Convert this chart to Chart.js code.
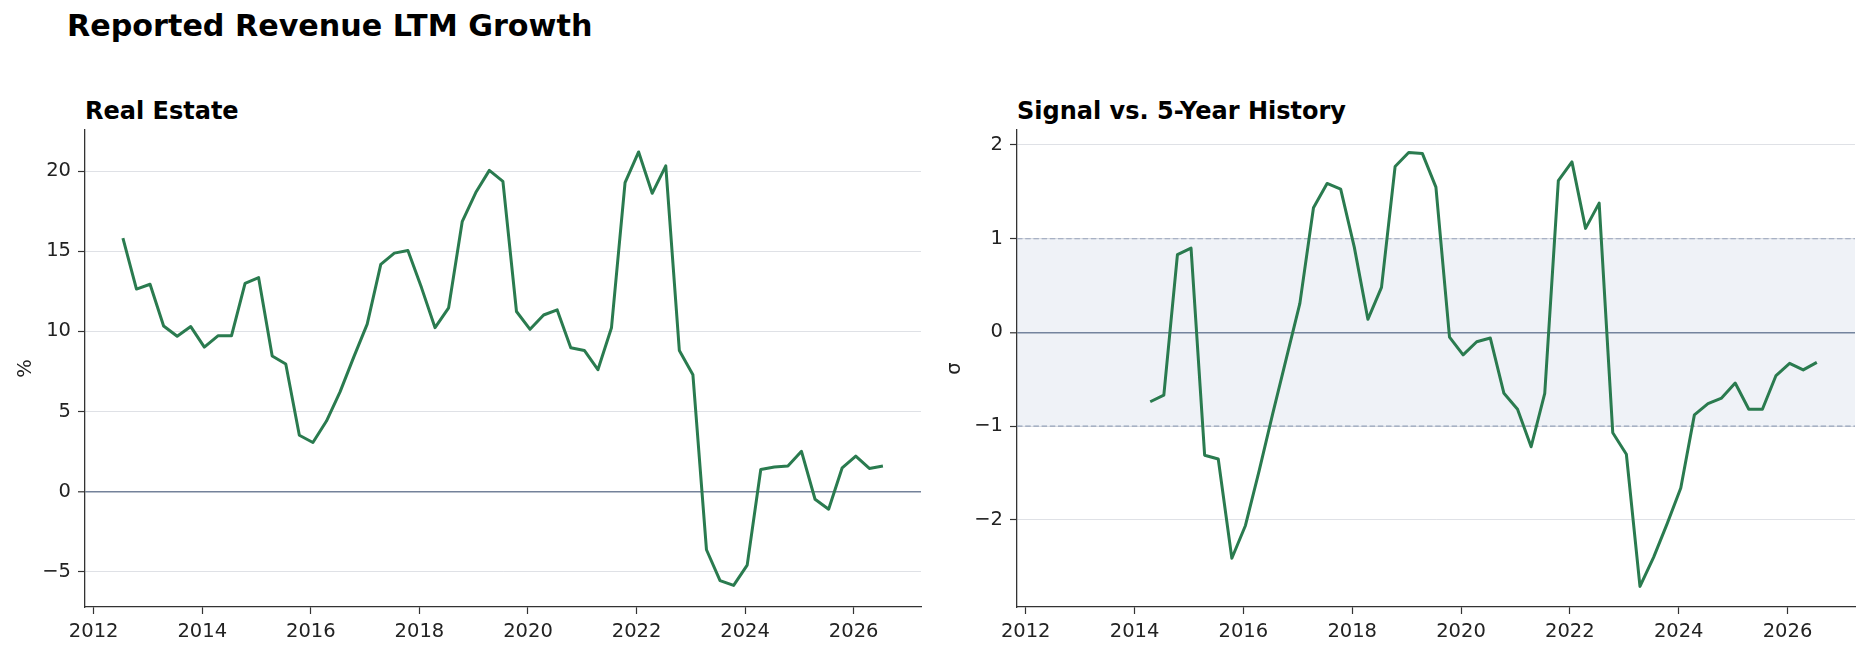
<!DOCTYPE html>
<html>
<head>
<meta charset="utf-8">
<title>Reported Revenue LTM Growth</title>
<script src="https://cdn.jsdelivr.net/npm/chart.js@4.4.1/dist/chart.umd.min.js"></script>
<style>
    body { margin: 0; width: 1869px; height: 656px; background: #fff; position: relative; overflow: hidden; font-family: "DejaVu Sans", sans-serif; }
    .title { position: absolute; font-weight: bold; color: #000; white-space: nowrap; }
    #suptitle { left: 67px; top: 11px; font-size: 30.2px; line-height: 30px; }
    .sub { top: 99px; font-size: 24px; line-height: 24px; }
    canvas { position: absolute; top: 120px; }
</style>
</head>
<body>
<div id="suptitle" class="title">Reported Revenue LTM Growth</div>
<div class="title sub" style="left:85px">Real Estate</div>
<div class="title sub" style="left:1017px">Signal vs. 5-Year History</div>
<canvas id="growthChart" width="935" height="536" style="left:0"></canvas>
<canvas id="signalChart" width="934" height="536" style="left:935px"></canvas>
<script>
document.addEventListener('DOMContentLoaded', init);

// quarterly observation dates
const quarterDates = [
    '2012-07-15', '2012-10-15',
    '2013-01-15', '2013-04-15', '2013-07-15', '2013-10-15',
    '2014-01-15', '2014-04-15', '2014-07-15', '2014-10-15',
    '2015-01-15', '2015-04-15', '2015-07-15', '2015-10-15',
    '2016-01-15', '2016-04-15', '2016-07-15', '2016-10-15',
    '2017-01-15', '2017-04-15', '2017-07-15', '2017-10-15',
    '2018-01-15', '2018-04-15', '2018-07-15', '2018-10-15',
    '2019-01-15', '2019-04-15', '2019-07-15', '2019-10-15',
    '2020-01-15', '2020-04-15', '2020-07-15', '2020-10-15',
    '2021-01-15', '2021-04-15', '2021-07-15', '2021-10-15',
    '2022-01-15', '2022-04-15', '2022-07-15', '2022-10-15',
    '2023-01-15', '2023-04-15', '2023-07-15', '2023-10-15',
    '2024-01-15', '2024-04-15', '2024-07-15', '2024-10-15',
    '2025-01-15', '2025-04-15', '2025-07-15', '2025-10-15',
    '2026-01-15', '2026-04-15', '2026-07-15'
];

// LTM revenue growth, %
const growthPct = [
    15.82, 12.64,
    12.94, 10.34, 9.70, 10.30,
    9.02, 9.72, 9.72, 13.00,
    13.35, 8.46, 7.97, 3.52,
    3.07, 4.41, 6.23, 8.38,
    10.45, 14.18, 14.88, 15.05,
    12.73, 10.23, 11.47, 16.84,
    18.66, 20.04, 19.36, 11.24,
    10.13, 11.02, 11.34, 8.98,
    8.81, 7.61, 10.23, 19.28,
    21.19, 18.61, 20.32, 8.81,
    7.29, -3.62, -5.54, -5.84,
    -4.58, 1.39, 1.54, 1.60,
    2.52, -0.47, -1.09, 1.49,
    2.22, 1.45, 1.60
];

// z-score vs trailing 5 years (needs history, so starts later)
const signalSigma = [
    null, null,
    null, null, null, null,
    null, -0.74, -0.67, 0.83,
    0.90, -1.31, -1.35, -2.41,
    -2.06, -1.48, -0.87, -0.28,
    0.31, 1.33, 1.59, 1.53,
    0.91, 0.14, 0.48, 1.77,
    1.92, 1.91, 1.55, -0.05,
    -0.24, -0.10, -0.06, -0.65,
    -0.82, -1.22, -0.65, 1.62,
    1.82, 1.11, 1.38, -1.07,
    -1.30, -2.71, -2.40, -2.04,
    -1.66, -0.88, -0.76, -0.70,
    -0.54, -0.82, -0.82, -0.46,
    -0.33, -0.40, -0.32
];

const yearTicks = [2012, 2014, 2016, 2018, 2020, 2022, 2024, 2026];
const growthTicks = [-5, 0, 5, 10, 15, 20];
const sigmaTicks = [-2, -1, 0, 1, 2];
const bandLimits = [-1, 1];

const X_RANGE = [2011.84, 2027.24];
const GROWTH_RANGE = [-7.19, 22.56];
const SIGMA_RANGE = [-2.93, 2.16];

const LINE_COLOR = '#2a7b4f';
const GRID_COLOR = '#dfe1e6';
const ZERO_COLOR = '#74829a';
const SPINE_COLOR = '#333333';
const BAND_FILL = 'rgba(120, 145, 190, 0.12)';
const BAND_EDGE = '#98a3b9';
const TICK_FONT = { family: 'DejaVu Sans', size: 19.5 };

function init() {
    Chart.defaults.font.family = 'DejaVu Sans';
    Chart.defaults.color = '#222';

    makeChart('growthChart', [seriesDataset(growthPct)],
        yAxis(GROWTH_RANGE, growthTicks, '%', 14, 85));

    makeChart('signalChart', [
        seriesDataset(signalSigma),
        bandDataset(bandLimits[1], '+1', 2),
        bandDataset(bandLimits[0], false, 3)
    ], yAxis(SIGMA_RANGE, sigmaTicks, 'σ', 8, 82));
}

function toYear(iso) {
    const [y, m, d] = iso.split('-').map(Number);
    return y + (m - 1) / 12 + (d - 1) / 365;
}

function formatTick(value) {
    return value < 0 ? '\u2212' + Math.abs(value) : String(value);
}

function seriesDataset(values) {
    return {
        data: quarterDates.map((d, i) => ({ x: toYear(d), y: values[i] })),
        borderColor: LINE_COLOR,
        borderWidth: 3,
        borderJoinStyle: 'round',
        pointRadius: 0,
        tension: 0,
        fill: false,
        order: 0
    };
}

// horizontal dashed edge of the +/-1 sigma band, filled to the next dataset
function bandDataset(level, fill, order) {
    return {
        data: X_RANGE.map(x => ({ x: x, y: level })),
        borderColor: BAND_EDGE,
        borderWidth: 1.1,
        borderDash: [5.5, 2.7],
        backgroundColor: BAND_FILL,
        pointRadius: 0,
        fill: fill,
        order: order
    };
}

function yAxis(range, ticks, title, titlePad, width) {
    return {
        type: 'linear',
        min: range[0],
        max: range[1],
        afterBuildTicks: axis => { axis.ticks = ticks.map(v => ({ value: v })); },
        afterFit: axis => {
            // fixed gutter; labels never reach the plot edges, so no extra padding
            axis.width = width;
            axis.paddingTop = 0;
            axis.paddingBottom = 0;
        },
        ticks: { font: TICK_FONT, color: '#222', padding: 7, callback: formatTick },
        grid: {
            color: ctx => (ctx.tick && ctx.tick.value === 0 ? ZERO_COLOR : GRID_COLOR),
            lineWidth: ctx => (ctx.tick && ctx.tick.value === 0 ? 1.6 : 1),
            tickColor: SPINE_COLOR,
            tickLength: 7,
            tickWidth: 1.2
        },
        border: { display: true, color: SPINE_COLOR, width: 1.3 },
        title: {
            display: true,
            text: title,
            font: { family: 'DejaVu Sans', size: 19.5 },
            color: '#222',
            padding: { top: titlePad, bottom: 0 }
        }
    };
}

function xAxis() {
    return {
        type: 'linear',
        min: X_RANGE[0],
        max: X_RANGE[1],
        afterBuildTicks: axis => { axis.ticks = yearTicks.map(v => ({ value: v })); },
        afterFit: axis => { axis.height = 45; },
        ticks: { font: TICK_FONT, color: '#222', padding: 6, maxRotation: 0, callback: v => String(v) },
        grid: {
            drawOnChartArea: false,
            tickColor: SPINE_COLOR,
            tickLength: 7,
            tickWidth: 1.2
        },
        border: { display: true, color: SPINE_COLOR, width: 1.3 }
    };
}

function makeChart(canvasId, datasets, yOptions) {
    const ctx = document.getElementById(canvasId).getContext('2d');
    return new Chart(ctx, {
        type: 'line',
        data: { datasets: datasets },
        options: {
            responsive: false,
            animation: false,
            devicePixelRatio: 1,
            layout: { padding: { left: 0, right: 14, top: 10, bottom: 4 } },
            plugins: {
                legend: { display: false },
                tooltip: { enabled: false }
            },
            scales: { x: xAxis(), y: yOptions }
        }
    });
}
</script>
</body>
</html>
